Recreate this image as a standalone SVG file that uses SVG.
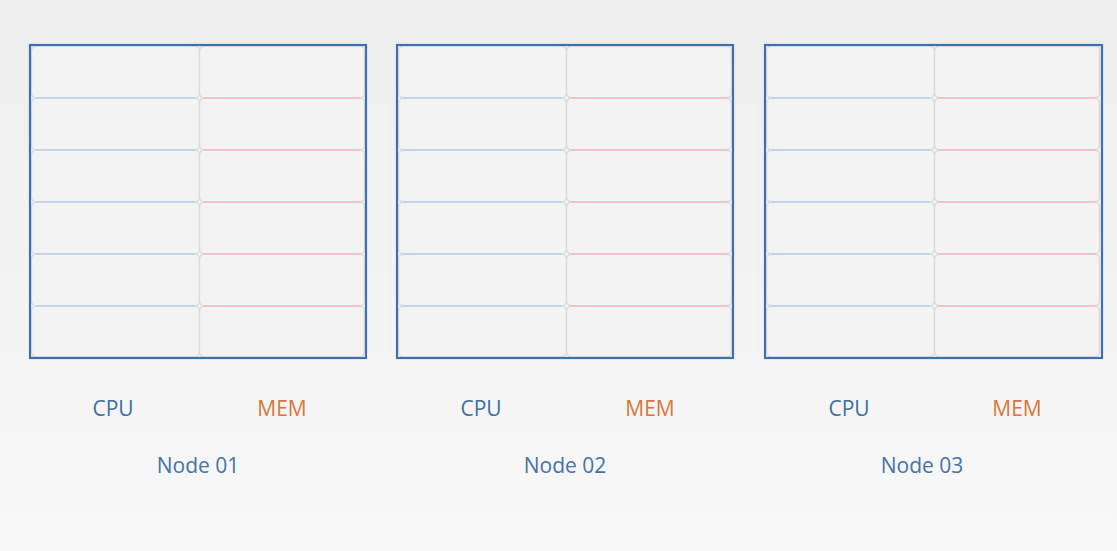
<svg xmlns="http://www.w3.org/2000/svg" width="1117" height="551" viewBox="0 0 1117 551">
<defs>
<linearGradient id="bg" x1="0" y1="0" x2="0" y2="1">
<stop offset="0" stop-color="#eeeeee"/>
<stop offset="1" stop-color="#f8f8f8"/>
</linearGradient>
<g id="grid">
<rect class="c" x="1.5" y="1" width="168" height="52" rx="5"/>
<rect class="c" x="1.5" y="53" width="168" height="52" rx="5"/>
<rect class="c" x="1.5" y="105" width="168" height="52" rx="5"/>
<rect class="c" x="1.5" y="157" width="168" height="52" rx="5"/>
<rect class="c" x="1.5" y="209" width="168" height="52" rx="5"/>
<rect class="c" x="1.5" y="261" width="168" height="51" rx="5"/>
<rect class="m" x="169.5" y="1" width="165" height="52" rx="5"/>
<rect class="m" x="169.5" y="53" width="165" height="52" rx="5"/>
<rect class="m" x="169.5" y="105" width="165" height="52" rx="5"/>
<rect class="m" x="169.5" y="157" width="165" height="52" rx="5"/>
<rect class="m" x="169.5" y="209" width="165" height="52" rx="5"/>
<rect class="m" x="169.5" y="261" width="165" height="51" rx="5"/>
<g class="cl">
<line x1="6" y1="53" x2="165" y2="53"/>
<line x1="6" y1="105" x2="165" y2="105"/>
<line x1="6" y1="157" x2="165" y2="157"/>
<line x1="6" y1="209" x2="165" y2="209"/>
<line x1="6" y1="261" x2="165" y2="261"/>
</g>
<g class="ml">
<line x1="174" y1="53" x2="330" y2="53"/>
<line x1="174" y1="105" x2="330" y2="105"/>
<line x1="174" y1="157" x2="330" y2="157"/>
<line x1="174" y1="209" x2="330" y2="209"/>
<line x1="174" y1="261" x2="330" y2="261"/>
</g>
</g>
</defs>
<style>
.c{fill:#f3f3f3;stroke:#d6dde4;stroke-width:1.3}
.m{fill:#f3f3f3;stroke:#e3d6da;stroke-width:1.3}
.cl line{stroke:#bcd2e6;stroke-width:1.5}
.ml line{stroke:#f0bcc6;stroke-width:1.5}
.frame{fill:none;stroke:#3f72aa;stroke-width:2.2}
.t{font-family:"Open Sans","Liberation Sans",sans-serif;font-size:21px;text-anchor:middle}
.cpu{fill:#3f6ea3}
.mem{fill:#d9773a}
.nd{fill:#4574a6}
</style>
<rect width="1117" height="551" fill="url(#bg)"/>
<g id="node01" transform="translate(30,45)">
<use href="#grid"/>
<rect class="frame" x="0" y="0" width="336" height="313"/>
<text class="t cpu" x="83" y="371">CPU</text>
<text class="t mem" x="252" y="371">MEM</text>
<text class="t nd" x="168" y="428">Node 01</text>
</g>
<g id="node02" transform="translate(397,45)">
<use href="#grid"/>
<rect class="frame" x="0" y="0" width="336" height="313"/>
<text class="t cpu" x="84" y="371">CPU</text>
<text class="t mem" x="253" y="371">MEM</text>
<text class="t nd" x="168" y="428">Node 02</text>
</g>
<g id="node03" transform="translate(765,45)">
<use href="#grid"/>
<rect class="frame" x="0" y="0" width="337" height="313"/>
<text class="t cpu" x="84" y="371">CPU</text>
<text class="t mem" x="252" y="371">MEM</text>
<text class="t nd" x="157" y="428">Node 03</text>
</g>
<g id="connectors"/>
</svg>
